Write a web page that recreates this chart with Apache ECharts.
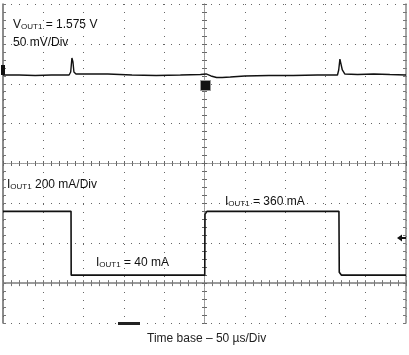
<!DOCTYPE html>
<html><head><meta charset="utf-8">
<script src="https://cdn.jsdelivr.net/npm/echarts@6/dist/echarts.min.js"></script>
<style>html,body{margin:0;padding:0;background:#fff}#c{width:409px;height:355px}</style>
</head><body><div id="c"></div>
<script>
// Time axis (µs), 50 µs/div, 10 divisions
const timeTicks = [0, 50, 100, 150, 200, 250, 300, 350, 400, 450, 500];
// Output voltage trace (V), 50 mV/div
const vTime = [0, 20, 40, 60, 82, 84, 85.5, 86.8, 88, 90.5, 110, 130, 160, 190, 220, 245, 252, 258, 265, 272, 282, 300, 330, 360, 390, 415, 416.5, 418, 419.5, 421, 424, 440, 460, 480, 500];
const vOut = [1.575, 1.575, 1.5744, 1.575, 1.575, 1.5788, 1.5963, 1.5913, 1.5788, 1.5763, 1.5763, 1.5763, 1.575, 1.5744, 1.575, 1.5756, 1.5763, 1.5738, 1.5719, 1.5719, 1.5725, 1.5738, 1.5744, 1.5744, 1.575, 1.575, 1.5813, 1.595, 1.5938, 1.5813, 1.5763, 1.5756, 1.5763, 1.5756, 1.575];
// Output current trace (mA), 200 mA/div
const iTime = [0, 84.4, 84.6, 250.3, 250.6, 253, 416.8, 417.2, 420, 500];
const iOut = [360, 360, 40, 40, 345, 360, 360, 55, 40, 40];

const zip = (a, b) => a.map((x, i) => [x, b[i]]);
const chart = echarts.init(document.getElementById('c'), null, {renderer: 'canvas'});
const FONT = 'Liberation Sans, Arial, sans-serif';
const border = (pos, color, extra) => Object.assign({
  type: 'value', min: 0, max: 500, interval: 50, position: pos,
  axisLine: {show: true, lineStyle: {color: color, width: 1.5}},
  axisTick: {show: true, inside: true, length: 3, lineStyle: {color: '#777'}},
  minorTick: {show: true, splitNumber: 5, length: 3, lineStyle: {color: '#777'}},
  axisLabel: {show: false}, splitLine: {show: false}
}, extra || {});
const yBorder = (pos, color, extra) => Object.assign({
  type: 'value', min: -200, max: 1400, interval: 200, position: pos,
  axisLine: {show: true, onZero: false, lineStyle: {color: color, width: 1.5}},
  axisTick: {show: true, inside: true, length: 3, lineStyle: {color: '#777'}},
  minorTick: {show: true, splitNumber: 5, length: 3, lineStyle: {color: '#777'}},
  axisLabel: {show: false}, splitLine: {show: false}
}, extra || {});
const centerLine = {show: true, onZero: false, lineStyle: {color: '#999', width: 1, type: [1, 1]}};
const centerTick = (inside) => ({show: true, inside: inside, length: 2.5, lineStyle: {color: '#666'}});
const centerMinor = {show: true, splitNumber: 5, length: 2.5, lineStyle: {color: '#666'}};

const vMid = 1.575 - (163.5 - 75) / 39.875 * 0.05;
const rich = {
  a: {fontSize: 12, fontFamily: FONT, verticalAlign: 'bottom', lineHeight: 14, fill: '#111'},
  s: {fontSize: 8, fontFamily: FONT, verticalAlign: 'bottom', lineHeight: 6, fill: '#111'}
};

chart.setOption({
  animation: false,
  grid: {left: 3, top: 4, width: 403, height: 319, containLabel: false},
  xAxis: [
    border('bottom', '#888', {splitLine: {show: true, lineStyle: {color: '#666', width: 1, type: [1, 7]}}}),
    border('top', '#999'),
    border('bottom', '#888', {offset: -159.5, axisLine: centerLine, axisTick: centerTick(true), minorTick: centerMinor}),
    border('bottom', '#888', {offset: -159.5, axisLine: centerLine, axisTick: centerTick(false), minorTick: centerMinor})
  ],
  yAxis: [
    yBorder('left', '#666', {splitLine: {show: true, lineStyle: {color: '#666', width: 1, type: [1, 7]}}}),
    yBorder('right', '#888'),
    yBorder('left', '#888', {offset: -201.5, axisLine: centerLine, axisTick: centerTick(true), minorTick: centerMinor}),
    yBorder('left', '#888', {offset: -201.5, axisLine: centerLine, axisTick: centerTick(false), minorTick: centerMinor}),
    {type: 'value', min: vMid - 0.2, max: vMid + 0.2, show: false, splitLine: {show: false}}
  ],
  series: [
    {type: 'line', name: 'VOUT1', xAxisIndex: 0, yAxisIndex: 4, data: zip(vTime, vOut), showSymbol: false, symbol: 'none',
     lineStyle: {color: '#111', width: 1.4}, z: 5},
    {type: 'line', name: 'IOUT1', xAxisIndex: 0, yAxisIndex: 0, data: zip(iTime, iOut), showSymbol: false, symbol: 'none',
     lineStyle: {color: '#111', width: 1.6}, z: 5}
  ],
  graphic: [
    {type: 'text', left: 13, top: 19, z: 10, style: {text: '{a|V}{s|OUT1}{a| = 1.575 V}', fill: '#111', rich: rich}},
    {type: 'text', left: 13, top: 37, z: 10, style: {text: '50 mV/Div', fill: '#111', fontSize: 12, fontFamily: FONT}},
    {type: 'text', left: 7, top: 179, z: 10, style: {text: '{a|I}{s|OUT1}{a| 200 mA/Div}', fill: '#111', rich: rich}},
    {type: 'text', left: 225, top: 196, z: 10, style: {text: '{a|I}{s|OUT1}{a| = 360 mA}', fill: '#111', rich: rich}},
    {type: 'text', left: 96, top: 257, z: 10, style: {text: '{a|I}{s|OUT1}{a| = 40 mA}', fill: '#111', rich: rich}},
    {type: 'text', left: 147, top: 333, z: 10, style: {text: 'Time base \u2013 50 \u00b5s/Div', fill: '#222', fontSize: 12, fontFamily: FONT}},
    // channel marker
    {type: 'rect', left: 1, top: 65, z: 10, shape: {width: 4, height: 10}, style: {fill: '#111'}},
    // trigger position marker
    {type: 'rect', left: 200, top: 80, z: 10, shape: {width: 10, height: 10}, style: {fill: '#111', stroke: '#999', lineWidth: 1}},
    // trigger level arrow
    {type: 'polygon', z: 10, shape: {points: [[397, 238], [402, 234.5], [402, 241.5]]}, style: {fill: '#111'}},
    {type: 'rect', left: 401, top: 237, z: 10, shape: {width: 5, height: 2}, style: {fill: '#111'}},
    // bottom screen markers
    {type: 'rect', left: 118, top: 322, z: 10, shape: {width: 22, height: 3}, style: {fill: '#222'}}
  ]
});
</script></body></html>
